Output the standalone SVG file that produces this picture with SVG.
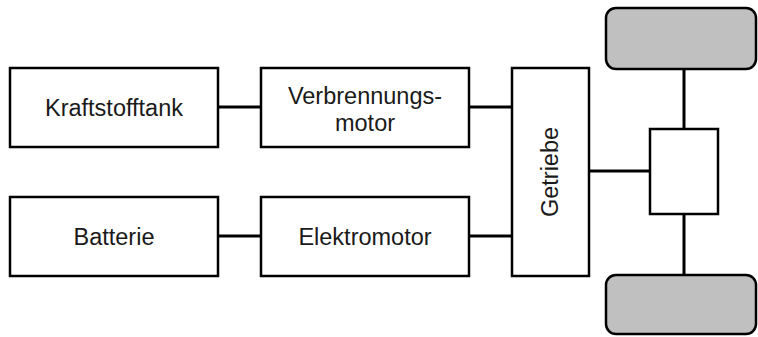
<svg xmlns="http://www.w3.org/2000/svg" width="758" height="337" viewBox="0 0 758 337">
<style>
.box{fill:#fff;stroke:#000;stroke-width:2.5}
.wheel{fill:#c0c0c0;stroke:#000;stroke-width:2.5}
.ln{stroke:#000;stroke-width:3;fill:none}
text{font-family:"Liberation Sans",Arial,sans-serif;font-size:23.5px;fill:#1a1a1a;text-anchor:middle}
</style>
<rect width="758" height="337" fill="#fff"/>
<g id="connectors">
<line class="ln" x1="218" y1="107" x2="261" y2="107"/>
<line class="ln" x1="469" y1="107" x2="512" y2="107"/>
<line class="ln" x1="218" y1="236" x2="261" y2="236"/>
<line class="ln" x1="469" y1="236" x2="512" y2="236"/>
<line class="ln" x1="589" y1="171" x2="650" y2="171"/>
<line class="ln" x1="684" y1="69" x2="684" y2="129"/>
<line class="ln" x1="684" y1="214" x2="684" y2="275"/>
</g>
<g id="kraftstofftank">
<rect class="box" x="10" y="68" width="208" height="79"/>
<text x="114" y="116">Kraftstofftank</text>
</g>
<g id="verbrennungsmotor">
<rect class="box" x="261" y="68" width="208" height="79"/>
<text x="365" y="104">Verbrennungs-</text>
<text x="365" y="131">motor</text>
</g>
<g id="batterie">
<rect class="box" x="10" y="197" width="208" height="79"/>
<text x="114" y="245">Batterie</text>
</g>
<g id="elektromotor">
<rect class="box" x="261" y="197" width="208" height="79"/>
<text x="365" y="245">Elektromotor</text>
</g>
<g id="getriebe">
<rect class="box" x="512" y="68" width="77" height="208"/>
<text transform="translate(558,172) rotate(-90)">Getriebe</text>
</g>
<g id="differential">
<rect class="box" x="650" y="129" width="68" height="85"/>
</g>
<g id="rad-oben">
<rect class="wheel" x="606" y="8" width="150" height="61" rx="10"/>
</g>
<g id="rad-unten">
<rect class="wheel" x="606" y="275" width="150" height="59" rx="10"/>
</g>
</svg>
